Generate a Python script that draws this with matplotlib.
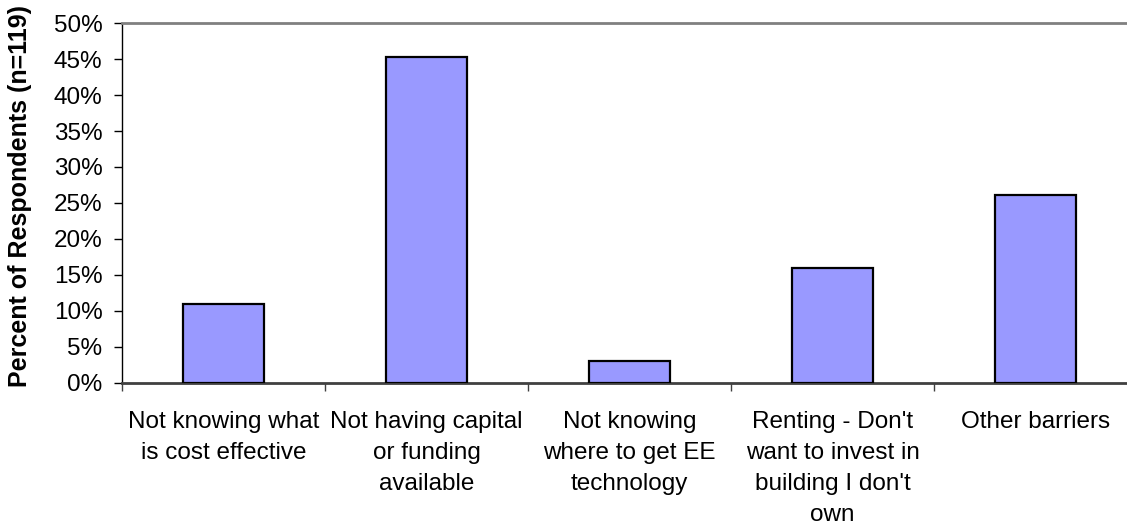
import matplotlib

matplotlib.use("Agg")
import matplotlib.pyplot as plt
import numpy as np
from matplotlib.ticker import FuncFormatter, MultipleLocator

plt.rcParams["font.family"] = ["Liberation Sans", "DejaVu Sans"]

# share of respondents naming each barrier (n=119), in percent
barriers = [
    "Not knowing what\nis cost effective",
    "Not having capital\nor funding\navailable",
    "Not knowing\nwhere to get EE\ntechnology",
    "Renting - Don't\nwant to invest in\nbuilding I don't\nown",
    "Other barriers",
]
percent = [11.0, 45.3, 3.0, 16.0, 26.1]

BAR_COLOR = "#9999ff"

fig = plt.figure(figsize=(11.27, 5.24), dpi=100)
# plot area runs a little past the right edge, as in the exported sheet
ax = fig.add_axes([0.1083, 0.2691, 0.9006, 0.687])

centers = np.arange(len(barriers)) + 0.5
ax.bar(centers, percent, width=0.40, color=BAR_COLOR, edgecolor="black", linewidth=1.6, zorder=3)

ax.set_xlim(0, len(barriers))
ax.set_ylim(0, 50)

ax.yaxis.set_major_locator(MultipleLocator(5))
ax.yaxis.set_major_formatter(FuncFormatter(lambda v, _: f"{v:.0f}%"))
ax.tick_params(axis="y", direction="out", length=6, width=1.0, pad=8, labelsize=17.5, color="black")

# category separators as major ticks, names on minor ticks at bar centres
ax.set_xticks(np.arange(len(barriers) + 1))
ax.set_xticklabels([])
ax.set_xticks(centers, minor=True)
ax.set_xticklabels(barriers, minor=True, fontsize=17.5, linespacing=1.53)
ax.tick_params(axis="x", which="major", direction="out", length=6, width=1.0, color="#404040")
ax.tick_params(axis="x", which="minor", length=0, pad=20)

ax.spines["left"].set_color("black")
ax.spines["left"].set_linewidth(1.0)
ax.spines["bottom"].set_color("#404040")
ax.spines["bottom"].set_linewidth(2.0)
ax.spines["top"].set_color("#808080")
ax.spines["top"].set_linewidth(2.0)
ax.spines["right"].set_color("#808080")

ax.set_ylabel("Percent of Respondents (n=119)", fontsize=18, fontweight="bold", va="center")
ax.yaxis.set_label_coords(-0.1005, 0.52)

fig.savefig("out.png", dpi=100)
